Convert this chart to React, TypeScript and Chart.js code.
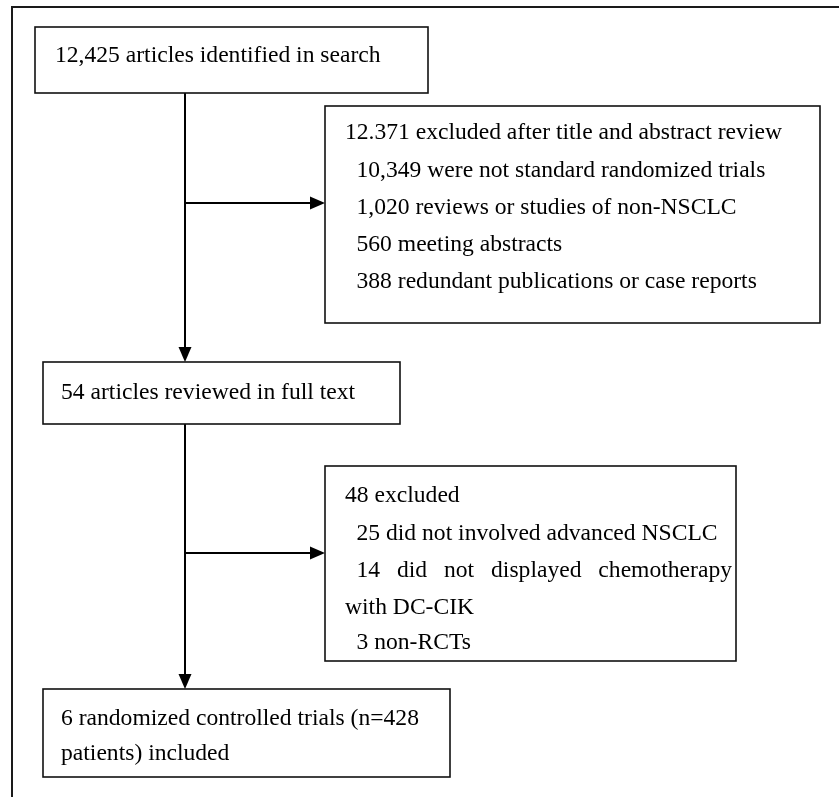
import React, { useEffect, useRef } from "react";
import { Chart, registerables } from "chart.js";

Chart.register(...registerables);

// ---- Content (text of each flow step) ----
const identifiedLines = ["12,425 articles identified in search"];
const screenExcludedLines = [
  "12.371 excluded after title and abstract review",
  "  10,349 were not standard randomized trials",
  "  1,020 reviews or studies of non-NSCLC",
  "  560 meeting abstracts",
  "  388 redundant publications or case reports",
];
const fullTextLines = ["54 articles reviewed in full text"];
const fullTextExcludedLines = [
  "48 excluded",
  "  25 did not involved advanced NSCLC",
  "  14 did not displayed chemotherapy|justify",
  "with DC-CIK",
  "  3 non-RCTs",
];
const includedLines = [
  "6 randomized controlled trials (n=428",
  "patients) included",
];

// ---- Layout (diagram coordinates, in the chart's own x/y scales) ----
const W = 839;
const H = 797;
const FONT = "23.6px 'Liberation Serif', 'Times New Roman', serif";
const INDENT = 11.5;

type Box = { x0: number; y0: number; x1: number; y1: number; tx: number; ty: number[]; lines: string[] };

const boxes: Box[] = [
  { x0: 35, y0: 27, x1: 428, y1: 93, tx: 55, ty: [56], lines: identifiedLines },
  { x0: 325, y0: 106, x1: 820, y1: 323, tx: 345, ty: [133, 171, 208, 245, 282], lines: screenExcludedLines },
  { x0: 43, y0: 362, x1: 400, y1: 424, tx: 61, ty: [393], lines: fullTextLines },
  { x0: 325, y0: 466, x1: 736, y1: 661, tx: 345, ty: [496, 534, 571, 608, 643], lines: fullTextExcludedLines },
  { x0: 43, y0: 689, x1: 450, y1: 777, tx: 61, ty: [719, 754], lines: includedLines },
];

const spineX = 185;
const arrowsDown = [
  { x: spineX, y0: 93, y1: 362 },
  { x: spineX, y0: 424, y1: 689 },
];
const arrowsRight = [
  { y: 203, x0: spineX, x1: 325 },
  { y: 553, x0: spineX, x1: 325 },
];

const flowPlugin = {
  id: "flow",
  afterDraw(chart: any) {
    const ctx: CanvasRenderingContext2D = chart.ctx;
    const xs = chart.scales.x;
    const ys = chart.scales.y;
    const px = (v: number) => xs.getPixelForValue(v);
    const py = (v: number) => ys.getPixelForValue(v);
    ctx.save();
    ctx.fillStyle = "#fff";
    ctx.fillRect(0, 0, chart.width, chart.height);

    // outer frame
    ctx.strokeStyle = "#1a1a1a";
    ctx.lineWidth = 2;
    ctx.strokeRect(px(12), py(7), px(W + 20) - px(12), py(H + 20) - py(7));

    // connectors
    ctx.lineWidth = 2;
    ctx.strokeStyle = "#000";
    ctx.fillStyle = "#000";
    arrowsDown.forEach((a) => {
      ctx.beginPath();
      ctx.moveTo(px(a.x), py(a.y0));
      ctx.lineTo(px(a.x), py(a.y1) - 12);
      ctx.stroke();
      ctx.beginPath();
      ctx.moveTo(px(a.x) - 6.5, py(a.y1) - 15);
      ctx.lineTo(px(a.x) + 6.5, py(a.y1) - 15);
      ctx.lineTo(px(a.x), py(a.y1));
      ctx.closePath();
      ctx.fill();
    });
    arrowsRight.forEach((a) => {
      ctx.beginPath();
      ctx.moveTo(px(a.x0), py(a.y));
      ctx.lineTo(px(a.x1) - 12, py(a.y));
      ctx.stroke();
      ctx.beginPath();
      ctx.moveTo(px(a.x1) - 15, py(a.y) - 6.5);
      ctx.lineTo(px(a.x1) - 15, py(a.y) + 6.5);
      ctx.lineTo(px(a.x1), py(a.y));
      ctx.closePath();
      ctx.fill();
    });

    // boxes + text
    boxes.forEach((b) => {
      ctx.fillStyle = "#fff";
      ctx.fillRect(px(b.x0), py(b.y0), px(b.x1) - px(b.x0), py(b.y1) - py(b.y0));
      ctx.lineWidth = 1.6;
      ctx.strokeStyle = "#111";
      ctx.strokeRect(px(b.x0), py(b.y0), px(b.x1) - px(b.x0), py(b.y1) - py(b.y0));
      ctx.fillStyle = "#000";
      ctx.font = FONT;
      ctx.textBaseline = "middle";
      ctx.textAlign = "left";
      b.lines.forEach((raw, i) => {
        let line = raw;
        const justify = line.endsWith("|justify");
        if (justify) line = line.slice(0, -8);
        const indented = line.startsWith("  ");
        const text = line.trim();
        const x = px(b.tx + (indented ? INDENT : 0));
        const y = py(b.ty[i]);
        if (justify) {
          const words = text.split(" ");
          const right = px(b.x1) - 4;
          const wordsW = words.reduce((s, w) => s + ctx.measureText(w).width, 0);
          const gap = (right - x - wordsW) / (words.length - 1);
          let cx = x;
          words.forEach((w) => {
            ctx.fillText(w, cx, y);
            cx += ctx.measureText(w).width + gap;
          });
        } else {
          ctx.fillText(text, x, y);
        }
      });
    });
    ctx.restore();
  },
};

export default function App() {
  const ref = useRef<HTMLCanvasElement>(null);
  useEffect(() => {
    document.body.style.margin = "0";
    const chart = new Chart(ref.current!, {
      type: "scatter",
      data: { datasets: [{ data: [], pointRadius: 0 }] },
      options: {
        animation: false,
        responsive: false,
        maintainAspectRatio: false,
        layout: { padding: 0 },
        plugins: { legend: { display: false }, tooltip: { enabled: false } },
        scales: {
          x: { type: "linear", min: 0, max: W, display: false },
          y: { type: "linear", min: 0, max: H, reverse: true, display: false },
        },
      },
      plugins: [flowPlugin],
    });
    return () => chart.destroy();
  }, []);
  return (
    <div style={{ position: "absolute", left: 0, top: 0, width: W, height: H, background: "#fff" }}>
      <canvas ref={ref} width={W} height={H} style={{ display: "block" }} />
    </div>
  );
}
